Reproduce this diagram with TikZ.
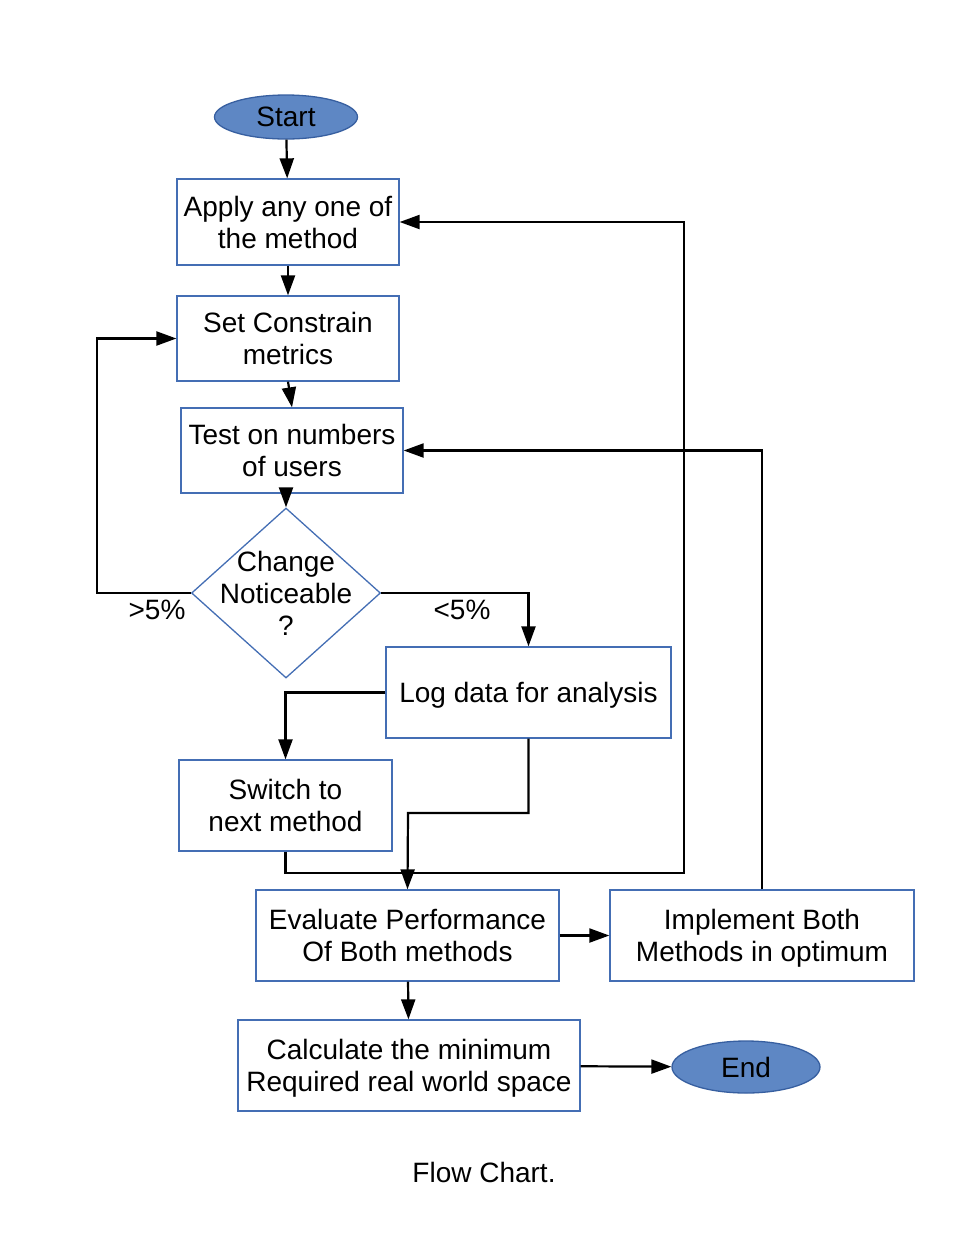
\documentclass[tikz,border=0pt]{standalone}
\usepackage{fontspec}
\setmainfont{Liberation Sans}
\usetikzlibrary{arrows.meta,shapes.geometric}
\definecolor{boxline}{RGB}{68,110,180}
\definecolor{ellfill}{RGB}{94,135,196}
\definecolor{ellline}{RGB}{55,95,160}
\tikzset{
  txt/.style={font=\fontsize{28}{32}\selectfont, align=center, inner sep=0pt},
  procbox/.style={txt, text depth=0pt, draw=boxline, line width=1.3pt, fill=white},
  term/.style={txt, ellipse, draw=ellline, line width=1.3pt, fill=ellfill},
  decision/.style={diamond, draw=boxline, line width=1.3pt, inner sep=0pt},
  conn/.style={line width=2.2pt, -{Triangle[length=20pt,width=14pt]}}
}
\begin{document}
\begin{tikzpicture}[x=1pt,y=-1pt]
\useasboundingbox (0,0) rectangle (969,1254);

\node[term, minimum width=143, minimum height=44] (start) at (286,117) {Start};
\node[procbox, minimum width=222, minimum height=86] (apply) at (288,222) {Apply any one of\\the method};
\node[procbox, minimum width=222, minimum height=85] (set) at (288,338.5) {Set Constrain\\metrics};
\node[procbox, minimum width=222, minimum height=85] (test) at (292,450.5) {Test on numbers\\of users};
\node[decision, minimum width=189, minimum height=170] (dec) at (286,593) {};
\node[txt] (dectxt) at (286,593) {Change\\Noticeable\\?};
\node[procbox, minimum width=285, minimum height=91] (log) at (528.5,692.5) {Log data for analysis};
\node[procbox, minimum width=213, minimum height=91] (switch) at (285.5,805.5) {Switch to\\next method};
\node[procbox, minimum width=303, minimum height=91] (eval) at (407.5,935.5) {Evaluate Performance\\Of Both methods};
\node[procbox, minimum width=304, minimum height=91] (impl) at (762,935.5) {Implement Both\\Methods in optimum};
\node[procbox, minimum width=342, minimum height=91] (calc) at (409,1065.5) {Calculate the minimum\\Required real world space};
\node[term, minimum width=148, minimum height=52] (end) at (746,1067) {End};
\node[txt] (caption) at (484,1172) {Flow Chart.};

\node[txt] (gt) at (157,610) {>5\%};
\node[txt] (lt) at (462,610) {<5\%};

\coordinate (L) at (97,593);
\coordinate (jog) at (408,813);
\coordinate (r1) at (684,873);

\draw[conn] (start) -- (apply);
\draw[conn] (apply) -- (set);
\draw[conn] (set.south) -- (test.north);
\draw[conn] (test.south -| dec.north) -- (dec.north);
\draw[conn] (dec.west) -- (L) |- (set.west);
\draw[conn] (dec.east) -| (log.north);
\draw[conn] (log.west) -| (switch.north);
\draw[conn] (log.south) |- (jog) -- (eval.north);
\draw[conn] (switch.south) |- (r1) |- (apply.east);
\draw[conn] (eval) -- (impl);
\draw[conn] (impl.north) |- (test.east);
\draw[conn] (eval) -- (calc);
\draw[conn] (calc) -- (end);
\end{tikzpicture}
\end{document}
